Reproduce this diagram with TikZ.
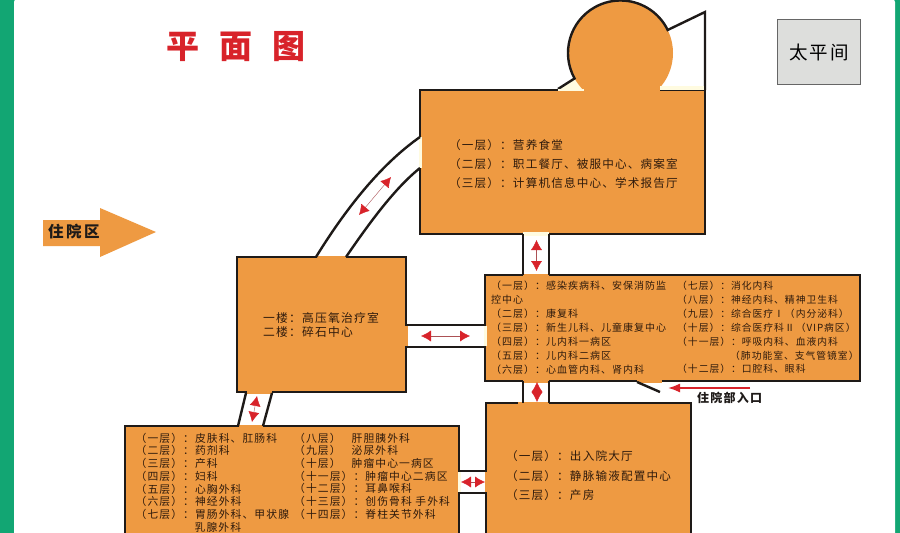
\documentclass[tikz,border=0pt]{standalone}
\usepackage{fontspec}
\usetikzlibrary{arrows.meta}
\setmainfont[LetterSpace=10]{Noto Sans CJK SC}
\definecolor{frame}{HTML}{12A673}
\definecolor{plan}{HTML}{EE9A42}
\definecolor{pale}{HTML}{FFFBE0}
\definecolor{wall}{HTML}{1E1A18}
\definecolor{mark}{HTML}{D8232A}
\definecolor{ink}{HTML}{2E1A0C}
\definecolor{gray2}{HTML}{DDDEDC}
\tikzset{
  room/.style={fill=plan,draw=wall,line width=2.6pt,rectangle,inner sep=0pt,outer sep=0pt,anchor=north west},
  wallline/.style={draw=wall,line width=2.4pt},
  gapplan/.style={fill=plan},
  gappale/.style={fill=pale},
  label/.style={text=ink,align=left,anchor=west,inner sep=0pt},
  twoway/.style={<->,>={Latex[length=10pt,width=11pt,color=mark]},draw=mark!50!gray,line width=0.4pt}
}
\begin{document}
\begin{tikzpicture}[x=1pt,y=-1pt]
    \useasboundingbox (0,0) rectangle (900,533);
    \clip (0,0) rectangle (900,533);
    \fill[frame] (0,0) rectangle (900,533);
    \fill[white,rounded corners=5pt] (14,-3) rectangle (895,560);

    \path (166,47) node[anchor=west,inner sep=0pt,text=mark,font=\fontsize{33}{33}\selectfont\bfseries] (title) {平\hspace{20pt}面\hspace{20pt}图};

    \fill[plan] (43,220) -- (100,220) -- (100,208) -- (156,232) -- (100,257) -- (100,246) -- (43,246) -- cycle;
    \path (48,232) node[anchor=west,inner sep=0pt,text=wall,font=\fontsize{15.5}{15.5}\selectfont\bfseries] (ward) {住\hspace{2.5pt}院\hspace{2.5pt}区};

    \path (777,19) node[rectangle,anchor=north west,fill=gray2,draw=gray!80!black,line width=1pt,minimum width=83pt,minimum height=65pt,inner sep=0pt,font=\fontsize{18.5}{20}\selectfont,text=black] (morgue) {太平间};

    \fill[pale] (558,90) -- (575,79) -- (584,90) -- cycle;
    \fill[pale] (660,90) -- (660,86) -- (704,86) -- (704,90) -- cycle;
    \path (620.5,53) node[circle,fill=plan,minimum size=105pt,inner sep=0pt,outer sep=0pt] (dome) {};

    \path (420,90) node[room,minimum width=285pt,minimum height=144pt] (canteen) {};
    \path (237,257) node[room,minimum width=169pt,minimum height=135pt] (oxygen) {};
    \path (485,275) node[room,minimum width=375pt,minimum height=106pt] (inpatient) {};
    \path (486,403) node[room,minimum width=205pt,minimum height=160pt] (lobby) {};
    \path (125,426) node[room,minimum width=334pt,minimum height=140pt] (surgery) {};

    \draw[wallline] (558,89) -- (dome.209) arc[start angle=151,end angle=334,radius=52.5] -- (705,12) -- (705,90);

    \fill[gapplan] (584,86) rectangle (660,92);
    \fill[gappale] (558,88.5) rectangle (584,91);
    \fill[gappale] (660,86) rectangle (703.8,90);
    \fill[gappale] (418.5,137) rectangle (422,168);
    \fill[gappale] (523,232) rectangle (549,236);
    \fill[gapplan] (523,273.5) rectangle (549,277);
    \fill[gapplan] (317,255.5) rectangle (346,259);
    \fill[gapplan] (404.5,326) rectangle (408,346);
    \fill[gappale] (483.5,326) rectangle (487,346);
    \fill[gapplan] (247,390.5) rectangle (272,394);
    \fill[gapplan] (239,424.5) rectangle (263,428);
    \fill[gappale] (457.5,472) rectangle (461,492);
    \fill[gapplan] (484.5,472) rectangle (488,492);
    \fill[gapplan] (523,379.5) rectangle (549,383);
    \fill[gapplan] (637,379.5) rectangle (662,383);
    \fill[gapplan] (518,401.5) rectangle (549,405);

    \draw[wallline] (523,234) -- (523,275);
    \draw[wallline] (549,234) -- (549,275);
    \draw[wallline] (523,381) -- (523,403);
    \draw[wallline] (549,381) -- (549,403);
    \draw[wallline] (406,325) -- (485,325);
    \draw[wallline] (406,347) -- (485,347);
    \draw[wallline] (459,471) -- (486,471);
    \draw[wallline] (459,493) -- (486,493);
    \draw[wallline] (246,393) -- (238,426);
    \draw[wallline] (272,393) -- (263,426);
    \draw[wallline] (316,257) .. controls (345,210) and (380,165) .. (420,137);
    \draw[wallline] (346,257) .. controls (370,222) and (395,188) .. (420,168);
    \draw[wallline] (637,382) -- (660,392);

    \coordinate (c1a) at (536.5,240);
    \coordinate (c1b) at (536.5,271);
    \coordinate (c2a) at (537,382);
    \coordinate (c2b) at (537,402);
    \coordinate (c3a) at (421,336);
    \coordinate (c3b) at (470,336);
    \coordinate (c4a) at (461,482);
    \coordinate (c4b) at (485,482);
    \coordinate (c5a) at (257,396);
    \coordinate (c5b) at (252,422);
    \coordinate (c6a) at (391,177);
    \coordinate (c6b) at (359,215);
    \coordinate (entry) at (750,388);
    \draw[twoway] (c1a) -- (c1b);
    \draw[twoway] (c2a) -- (c2b);
    \draw[twoway] (c3a) -- (c3b);
    \draw[twoway] (c4a) -- (c4b);
    \draw[twoway] (c5a) -- (c5b);
    \draw[twoway] (c6a) -- (c6b);

    \path (697,398) node[anchor=west,inner sep=0pt,text=wall,font=\fontsize{12}{12}\selectfont\bfseries] (gate) {住院部入口};
    \draw[-{Latex[length=12pt,width=9pt]},draw=mark,line width=1.6pt] (entry) -- (668,388);

    \path (449,164) node[label,font=\fontsize{11.6}{19}\selectfont] (canteen-text) {（一层）：营养食堂\\（二层）：职工餐厅、被服中心、病案室\\（三层）：计算机信息中心、学术报告厅};
    \path (263,325) node[label,font=\fontsize{11.8}{14}\selectfont] (oxygen-text) {一楼：高压氧治疗室\\二楼：碎石中心};
    \path (491,327.5) node[label,font=\fontsize{10}{13.9}\selectfont] (inpatient-left) {（一层）：感染疾病科、安保消防监\\控中心\\（二层）：康复科\\（三层）：新生儿科、儿童康复中心\\（四层）：儿内科一病区\\（五层）：儿内科二病区\\（六层）：心血管内科、肾内科};
    \path (677,327.5) node[label,font=\fontsize{9.8}{13.9}\selectfont] (inpatient-right) {（七层）：消化内科\\（八层）：神经内科、精神卫生科\\（九层）：综合医疗Ⅰ（内分泌科）\\（十层）：综合医疗科Ⅱ（VIP病区）\\（十一层）：呼吸内科、血液内科\\\hspace{53pt}（肺功能室、支气管镜室）\\（十二层）：口腔科、眼科};
    \path (506,476) node[label,font=\fontsize{11.6}{19.5}\selectfont] (lobby-text) {（一层）：出入院大厅\\（二层）：静脉输液配置中心\\（三层）：产房};
    \path (135.5,482.5) node[label,font=\fontsize{10.8}{12.7}\selectfont] (surgery-left) {（一层）：皮肤科、肛肠科\\（二层）：药剂科\\（三层）：产科\\（四层）：妇科\\（五层）：心胸外科\\（六层）：神经外科\\（七层）：胃肠外科、甲状腺\\\hspace{59pt}乳腺外科};
    \path (294,476) node[label,font=\fontsize{10.8}{12.7}\selectfont] (surgery-right) {（八层）\hspace{11pt}肝胆胰外科\\（九层）\hspace{11pt}泌尿外科\\（十层）\hspace{11pt}肿瘤中心一病区\\（十一层）：肿瘤中心二病区\\（十二层）：耳鼻喉科\\（十三层）：创伤骨科 手外科\\（十四层）：脊柱关节外科};
\end{tikzpicture}
\end{document}
